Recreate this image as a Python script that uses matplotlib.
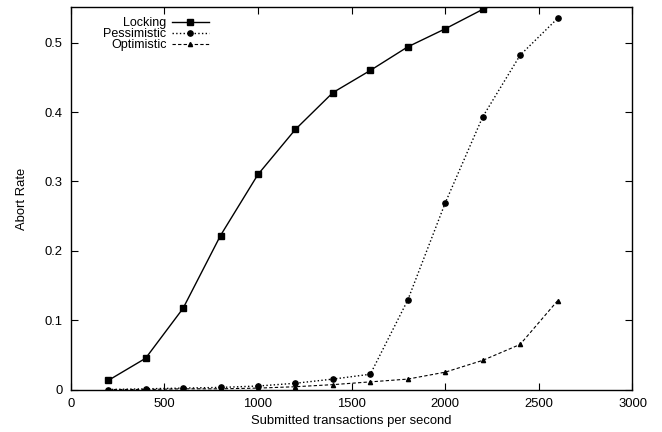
import numpy as np
import matplotlib
matplotlib.use("Agg")
import matplotlib.pyplot as plt

plt.rcParams['font.family'] = ['Liberation Sans', 'DejaVu Sans']

### data ###

rate = [200, 400, 600, 800, 1000, 1200, 1400, 1600, 1800, 2000, 2200, 2400, 2600]
locking = [0.013, 0.045, 0.117, 0.222, 0.310, 0.375, 0.428, 0.460, 0.494, 0.520, 0.548, 0.570, 0.590]
pessimistic = [0.000, 0.001, 0.002, 0.003, 0.005, 0.009, 0.015, 0.022, 0.129, 0.269, 0.393, 0.482, 0.535]
optimistic = [0.000, 0.000, 0.001, 0.001, 0.002, 0.004, 0.007, 0.011, 0.015, 0.025, 0.042, 0.065, 0.128]

fig = plt.figure(figsize=(6.62, 4.32), dpi=100)
ax = fig.add_axes([70.7/662, 1 - 389.5/432, (632.5-70.7)/662, (389.5-7.3)/432])

ax.plot(rate, locking, '-', color='black', lw=1, marker='s', ms=4.5, label='Locking')
ax.plot(rate, pessimistic, ':', color='black', lw=1, marker='o', ms=3.8, label='Pessimistic')
ax.plot(rate, optimistic, '--', color='black', lw=0.8, marker='^', ms=3, label='Optimistic',
        dashes=(3, 2))

ax.set_xlim(0, 3000)
ax.set_ylim(0, 0.551)
ax.set_xticks(np.arange(0, 3001, 500))
ax.set_yticks([0, 0.1, 0.2, 0.3, 0.4, 0.5])
ax.set_yticklabels(['0', '0.1', '0.2', '0.3', '0.4', '0.5'])
ax.tick_params(direction='in', top=True, right=True, length=5, labelsize=9.4, pad=6)
for s in ax.spines.values():
    s.set_linewidth(1)

ax.set_xlabel("Submitted transactions per second", fontsize=9.4, labelpad=4)
ax.set_ylabel("Abort Rate", fontsize=9.4, labelpad=12)

ax.legend(loc='upper right', bbox_to_anchor=(209/662, 1 - 17/432), bbox_transform=fig.transFigure,
          frameon=False, fontsize=9, markerfirst=False, handlelength=3.0,
          handletextpad=0.4, labelspacing=-0.08, borderpad=0, borderaxespad=0)

fig.savefig("out.png", dpi=100)
